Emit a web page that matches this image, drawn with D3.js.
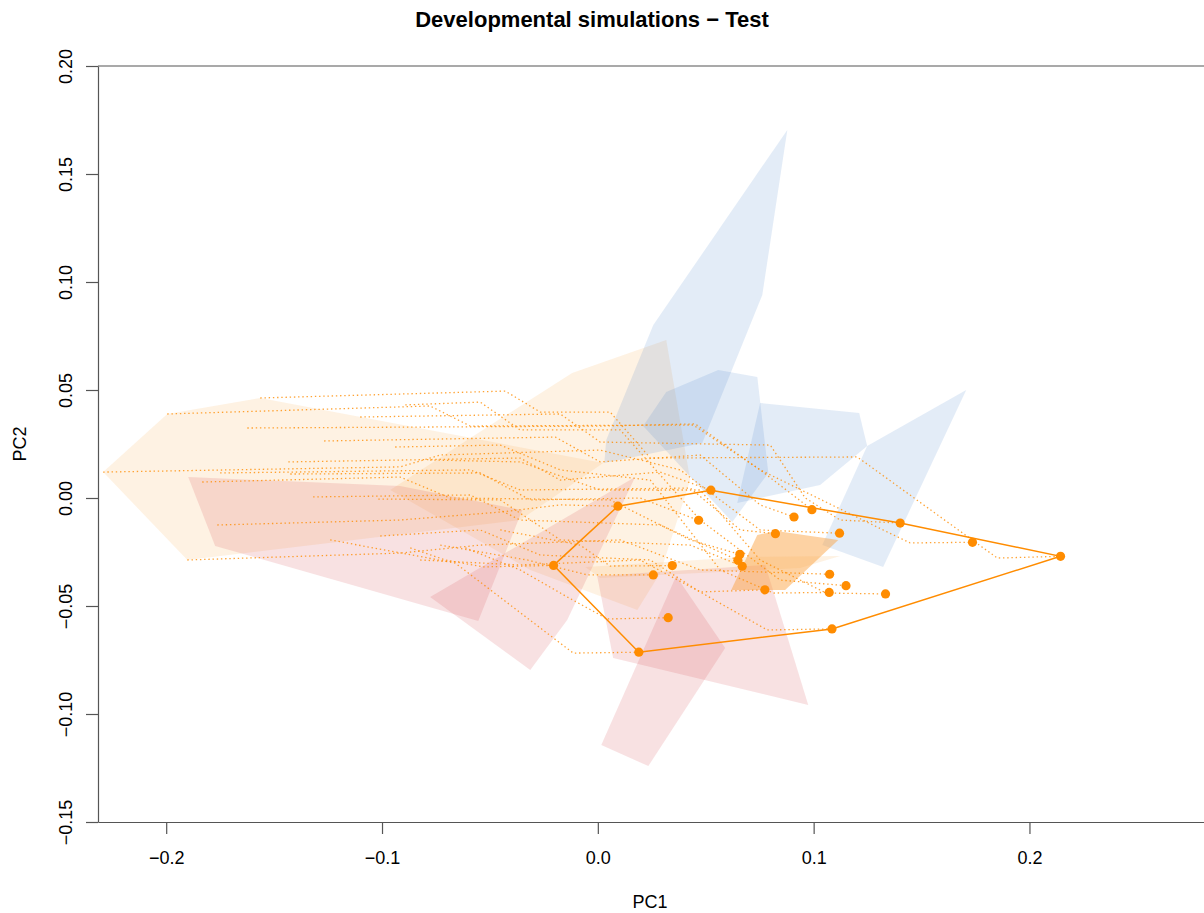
<!DOCTYPE html>
<html>
<head>
<meta charset="utf-8">
<script src="https://cdn.jsdelivr.net/npm/d3@7"></script>
<style>
  html, body { margin: 0; padding: 0; background: #fff; }
  svg { display: block; font-family: "Liberation Sans", Arial, Helvetica, sans-serif; }
</style>
</head>
<body>
<svg id="chart" width="1204" height="913"></svg>
<script>
// ---- axis ticks ----
const xTicks = [-0.2, -0.1, 0.0, 0.1, 0.2];
const xTickLabels = ["\u22120.2", "\u22120.1", "0.0", "0.1", "0.2"];
const yTicks = [0.20, 0.15, 0.10, 0.05, 0.00, -0.05, -0.10, -0.15];
const yTickLabels = ["0.20", "0.15", "0.10", "0.05", "0.00", "\u22120.05", "\u22120.10", "\u22120.15"];

// ---- final simulated specimens (PC1, PC2) ----
const pc1 = [-0.0205, 0.0093, 0.0524, 0.0467, 0.0992, 0.0909, 0.1120, 0.1401,
             0.1736, 0.2144, 0.0823, 0.0658, 0.0649, 0.0669, 0.0345, 0.0257,
             0.0774, 0.1074, 0.1150, 0.1072, 0.1333, 0.0326, 0.0190, 0.1085];
const pc2 = [-0.0312, -0.0038, 0.0036, -0.0103, -0.0054, -0.0088, -0.0163, -0.0116,
             -0.0205, -0.0270, -0.0165, -0.0261, -0.0288, -0.0316, -0.0313, -0.0356,
             -0.0425, -0.0353, -0.0406, -0.0437, -0.0444, -0.0554, -0.0714, -0.0606];

// ---- developmental paths leading to each specimen (earlier stages) ----
const trajectories = [
  [[-0.0869,-0.0231],[-0.0707,-0.0287],[-0.0531,-0.0319]],
  [[-0.1763,-0.0125],[-0.0916,-0.0102],[-0.0452,-0.0065],[-0.0174,-0.0032]],
  [[-0.1434,0.0167],[-0.0360,0.0185],[-0.0174,0.0083],[0.0289,0.0120]],
  [[-0.1425,0.0111],[-0.0545,0.0116],[-0.0313,-0.0009],[0.0196,0.0000]],
  [[-0.1624,0.0324],[0.0011,0.0333],[0.0451,0.0343],[0.0752,0.0130]],
  [[-0.1268,0.0264],[-0.0197,0.0282],[0.0011,0.0167],[0.0474,0.0199],[0.0752,-0.0032]],
  [[-0.2292,0.0120],[-0.0916,0.0144],[-0.0730,0.0199],[0.0011,0.0222],[0.0382,0.0130],[0.0752,-0.0148]],
  [[-0.1101,0.0375],[-0.0174,0.0389],[0.0011,0.0259],[0.0799,0.0245],[0.0961,0.0000],[0.1123,-0.0102]],
  [[-0.1995,0.0389],[-0.0777,0.0426],[-0.0591,0.0333],[0.0442,0.0338],[0.0752,0.0130],[0.1322,-0.0148],[0.1447,-0.0208]],
  [[-0.1564,0.0463],[-0.0429,0.0495],[-0.0267,0.0398],[0.0057,0.0398],[0.0243,0.0185],[0.1202,0.0190],[0.1851,-0.0278]],
  [[-0.1750,0.0116],[-0.0591,0.0130],[-0.0360,0.0037],[0.0428,0.0046],[0.0660,-0.0148]],
  [[-0.1833,0.0074],[-0.0916,0.0097],[-0.0684,0.0000],[0.0057,-0.0009],[0.0428,-0.0194]],
  [[-0.1319,0.0005],[-0.0591,0.0014],[-0.0360,-0.0102],[0.0289,-0.0125]],
  [[-0.1017,-0.0005],[-0.0452,-0.0009],[-0.0174,-0.0194],[0.0428,-0.0218]],
  [[-0.0452,-0.0148],[-0.0082,-0.0218],[0.0057,-0.0315]],
  [[-0.0730,-0.0218],[-0.0327,-0.0287],[-0.0049,-0.0356]],
  [[-0.1008,-0.0176],[-0.0545,-0.0148],[-0.0267,-0.0264],[0.0243,-0.0287],[0.0474,-0.0435]],
  [[-0.1902,-0.0287],[-0.0916,-0.0255],[-0.0545,-0.0218],[0.0104,-0.0194],[0.0474,-0.0333]],
  [[-0.0892,0.0431],[-0.0545,0.0444],[-0.0360,0.0315],[0.0104,0.0315],[0.0474,-0.0102],[0.0845,-0.0380]],
  [[-0.0939,0.0236],[-0.0452,0.0245],[-0.0174,0.0130],[0.0243,0.0083],[0.0567,-0.0333],[0.0813,-0.0440]],
  [[-0.0777,0.0176],[-0.0360,0.0167],[0.0011,0.0037],[0.0474,0.0037],[0.0752,-0.0287],[0.1058,-0.0440]],
  [[-0.0614,-0.0231],[-0.0360,-0.0333],[-0.0142,-0.0458],[0.0044,-0.0560]],
  [[-0.1240,-0.0194],[-0.0661,-0.0301],[-0.0114,-0.0718]],
  [[-0.0823,-0.0287],[-0.0360,-0.0310],[0.0196,-0.0287],[0.0474,-0.0435],[0.0785,-0.0611]]
];

// ---- stage hulls (PC1, PC2 vertices) ----
const peachHulls = [
  [[-0.2292,0.0120],[-0.1995,0.0389],[-0.1564,0.0463],[0.0025,0.0162],[-0.0360,-0.0102],[-0.1902,-0.0287]],
  [[-0.0962,0.0037],[-0.0605,0.0269],[-0.0119,0.0579],[0.0317,0.0731],[0.0428,0.0083],[0.0289,-0.0347],[0.0183,-0.0519],[-0.0313,-0.0333]],
  [[-0.0058,-0.0319],[0.0683,-0.0273],[0.1123,-0.0269],[0.0938,-0.0324],[0.0011,-0.0370]]
];
const pinkHulls = [
  [[-0.1898,0.0097],[-0.0916,0.0056],[-0.0350,-0.0056],[-0.0554,-0.0569],[-0.1773,-0.0222]],
  [[-0.0777,-0.0458],[0.0173,0.0097],[-0.0142,-0.0565],[-0.0313,-0.0796]],
  [[0.0016,-0.1144],[0.0234,-0.1241],[0.0590,-0.0694],[0.0363,-0.0361]],
  [[-0.0003,-0.0361],[0.0776,-0.0310],[0.0975,-0.0958],[0.0071,-0.0741]]
];
const blueHulls = [
  [[0.0257,0.0801],[0.0878,0.1704],[0.0762,0.0940],[0.0484,0.0255],[0.0030,0.0162],[0.0039,0.0269]],
  [[0.0210,0.0333],[0.0317,0.0491],[0.0558,0.0593],[0.0739,0.0560],[0.0790,0.0116],[0.0623,-0.0111]],
  [[0.0752,0.0440],[0.1211,0.0394],[0.1248,0.0241],[0.1030,0.0060],[0.0646,-0.0023]],
  [[0.1707,0.0500],[0.1248,0.0241],[0.1040,-0.0218],[0.1322,-0.0319]]
];
const orangeHulls = [
  [[0.0618,-0.0426],[0.0739,-0.0171],[0.0827,-0.0153],[0.1114,-0.0194],[0.0868,-0.0426]]
];

// ---- layout ----
const svg = d3.select("#chart");
const x = d3.scaleLinear().domain([-0.2316, 0.2818]).range([98, 1206]);
const y = d3.scaleLinear().domain([-0.15, 0.20]).range([822, 66]);
const ORANGE = "#FF8C00";

svg.append("defs").append("clipPath").attr("id", "plotClip")
  .append("rect").attr("x", 98).attr("y", 66).attr("width", 1110).attr("height", 756);

const plot = svg.append("g").attr("clip-path", "url(#plotClip)");
const poly = d => "M" + d.map(p => x(p[0]) + "," + y(p[1])).join("L") + "Z";

function drawHulls(list, color, alpha) {
  plot.append("g").selectAll("path").data(list).join("path")
    .attr("d", poly)
    .attr("fill", color)
    .attr("fill-opacity", alpha)
    .attr("stroke", "none");
}
drawHulls(peachHulls, "rgb(250,160,60)", 0.14);
drawHulls(pinkHulls, "rgb(215,75,85)", 0.17);
drawHulls(blueHulls, "rgb(60,120,200)", 0.14);
drawHulls(orangeHulls, "rgb(250,160,60)", 0.47);

// dotted developmental paths, each ending at its specimen
const line = d3.line().x(d => x(d[0])).y(d => y(d[1]));
plot.append("g").selectAll("path")
  .data(trajectories.map((t, i) => t.concat([[pc1[i], pc2[i]]])))
  .join("path")
  .attr("d", line)
  .attr("fill", "none")
  .attr("stroke", ORANGE)
  .attr("stroke-opacity", 0.8)
  .attr("stroke-width", 1.3)
  .attr("stroke-dasharray", "1.4 2.8");

// convex hull of the final specimens
const pts = pc1.map((v, i) => [v, pc2[i]]);
const hull = d3.polygonHull(pts);
plot.append("path")
  .attr("d", poly(hull))
  .attr("fill", "none")
  .attr("stroke", ORANGE)
  .attr("stroke-width", 1.5);

plot.append("g").selectAll("circle").data(pts).join("circle")
  .attr("cx", d => x(d[0]))
  .attr("cy", d => y(d[1]))
  .attr("r", 4.6)
  .attr("fill", ORANGE);

// ---- axes and frame ----
const AXIS = "#555";
const xAxis = svg.append("g").attr("transform", "translate(0,822)")
  .call(d3.axisBottom(x).tickValues(xTicks).tickSize(12).tickSizeOuter(0)
        .tickPadding(0).tickFormat((d, i) => xTickLabels[i]));
const yAxis = svg.append("g").attr("transform", "translate(98,0)")
  .call(d3.axisLeft(y).tickValues(yTicks).tickSize(12).tickSizeOuter(0)
        .tickPadding(0).tickFormat((d, i) => yTickLabels[i]));

[xAxis, yAxis].forEach(g => {
  g.selectAll(".domain").attr("stroke", AXIS).attr("stroke-width", 1.2);
  g.selectAll(".tick line").attr("stroke", AXIS).attr("stroke-width", 1.2);
  g.selectAll("text").attr("fill", "#000").attr("font-size", 18)
    .attr("font-family", "Liberation Sans, Arial, sans-serif");
});
xAxis.selectAll(".tick text").attr("dy", null).attr("y", 42);
yAxis.selectAll(".tick text")
  .attr("x", null).attr("dy", null)
  .attr("text-anchor", "middle")
  .attr("transform", "translate(-26,0) rotate(-90)");

// top edge of the plot frame
svg.append("line").attr("x1", 98).attr("x2", 1206).attr("y1", 66).attr("y2", 66)
  .attr("stroke", AXIS).attr("stroke-width", 1.2);

// ---- titles ----
svg.append("text").attr("x", 592).attr("y", 27).attr("text-anchor", "middle")
  .attr("font-size", 22).attr("font-weight", "bold").attr("fill", "#000")
  .text("Developmental simulations \u2212 Test");
svg.append("text").attr("x", 650).attr("y", 908).attr("text-anchor", "middle")
  .attr("font-size", 18).attr("fill", "#000").text("PC1");
svg.append("text").attr("transform", "translate(26,444) rotate(-90)")
  .attr("text-anchor", "middle").attr("font-size", 18).attr("fill", "#000").text("PC2");
</script>
</body>
</html>
